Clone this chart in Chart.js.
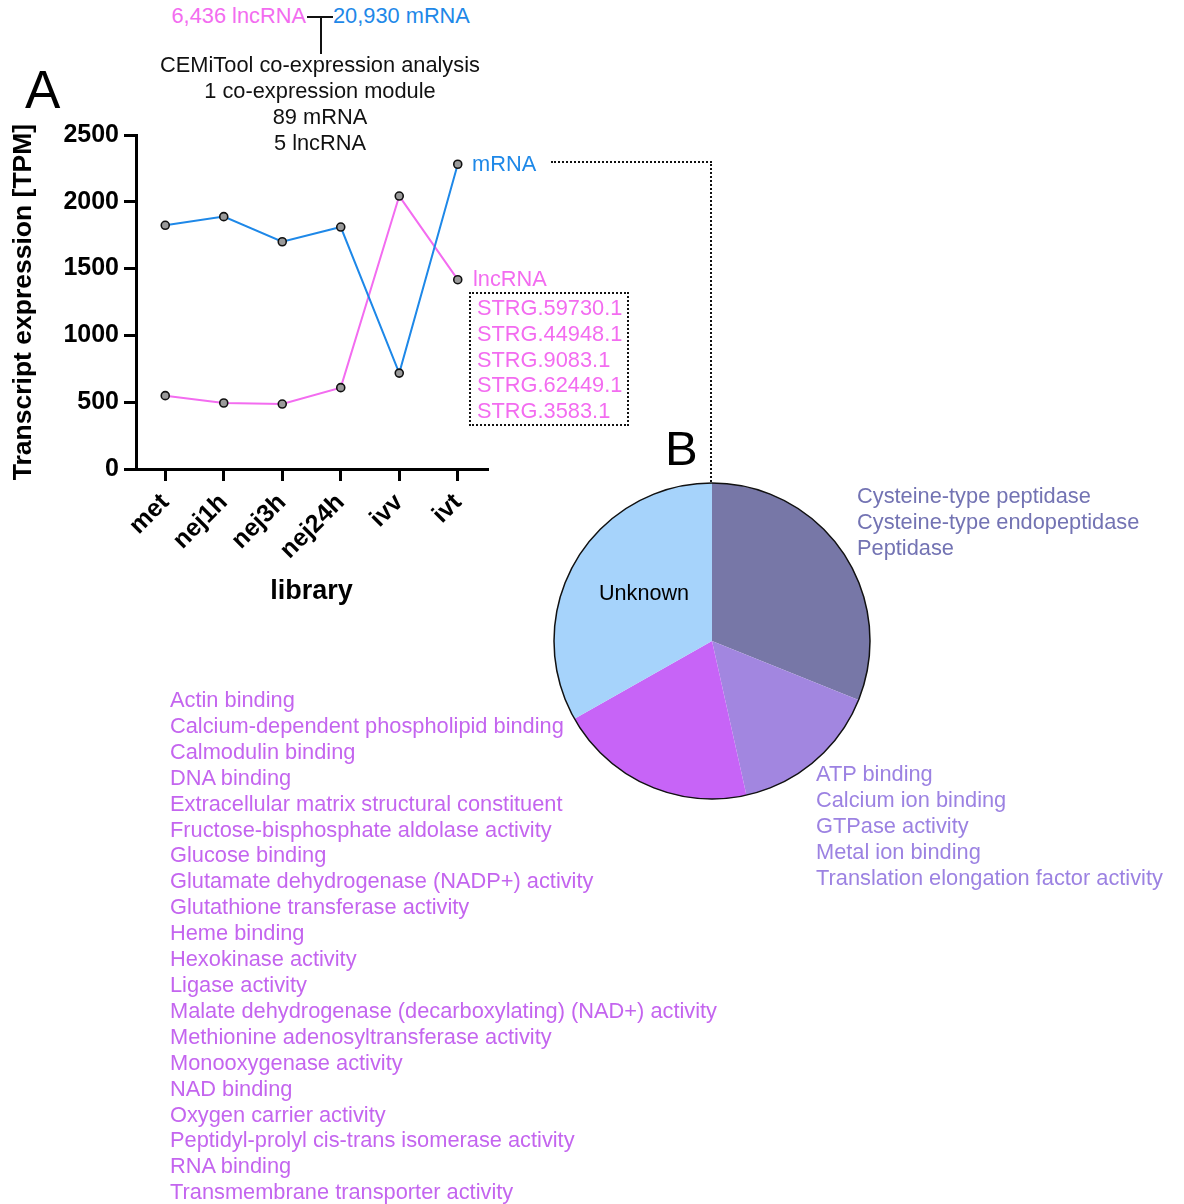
<!DOCTYPE html>
<html>
<head>
<meta charset="utf-8">
<script src="https://cdn.jsdelivr.net/npm/chart.js@4.4.1/dist/chart.umd.min.js"></script>
<style>
  html, body { margin: 0; padding: 0; background: #fff; }
  body { width: 1184px; height: 1204px; position: relative; overflow: hidden;
         font-family: "Liberation Sans", Arial, sans-serif; }
  .abs { position: absolute; white-space: nowrap; }
  .txt { font-size: 21.8px; line-height: 26px; }
  canvas { position: absolute; }
</style>
</head>
<body>
<canvas id="lineChart" width="500" height="505" style="left:0px;top:115px;"></canvas>
<canvas id="pieChart" width="320" height="320" style="left:552px;top:481px;"></canvas>
<div id="overlay"></div>
<script>
// ---------------- DATA ----------------
const categories = ['met', 'nej1h', 'nej3h', 'nej24h', 'ivv', 'ivt'];
const mrnaValues = [1824, 1889, 1701, 1811, 718, 2281];
const lncrnaValues = [549, 494, 486, 609, 2043, 1417];
const yTickValues = [0, 500, 1000, 1500, 2000, 2500];

const pieLabels = ['Cysteine-type peptidase group', 'ATP binding group', 'Actin binding group', 'Unknown'];
const pieValues = [31.1, 15.4, 20.3, 33.2];

const topCounts = ['6,436 lncRNA', '20,930 mRNA'];
const analysisLines = ['CEMiTool co-expression analysis', '1 co-expression module', '89 mRNA', '5 lncRNA'];
const lncrnaIds = ['STRG.59730.1', 'STRG.44948.1', 'STRG.9083.1', 'STRG.62449.1', 'STRG.3583.1'];
const cysteineTerms = ['Cysteine-type peptidase', 'Cysteine-type endopeptidase', 'Peptidase'];
const atpTerms = ['ATP binding', 'Calcium ion binding', 'GTPase activity', 'Metal ion binding', 'Translation elongation factor activity'];
const actinTerms = ['Actin binding', 'Calcium-dependent phospholipid binding', 'Calmodulin binding', 'DNA binding',
  'Extracellular matrix structural constituent', 'Fructose-bisphosphate aldolase activity', 'Glucose binding',
  'Glutamate dehydrogenase (NADP+) activity', 'Glutathione transferase activity', 'Heme binding',
  'Hexokinase activity', 'Ligase activity', 'Malate dehydrogenase (decarboxylating) (NAD+) activity',
  'Methionine adenosyltransferase activity', 'Monooxygenase activity', 'NAD binding', 'Oxygen carrier activity',
  'Peptidyl-prolyl cis-trans isomerase activity', 'RNA binding', 'Transmembrane transporter activity'];

// ---------------- COLOURS ----------------
const BLUE = '#1E88E8';
const PINK = '#F36CF0';
const pieColors = ['#7777A7', '#A286E0', '#C764F7', '#A6D3FB'];
const CYS_TEXT = '#7373B3';
const ATP_TEXT = '#9C82E2';
const ACTIN_TEXT = '#C465EF';

// ---------------- OVERLAY TEXT ----------------
const ov = document.getElementById('overlay');
function addDiv(html, style, cls) {
  const d = document.createElement('div');
  d.className = 'abs ' + (cls || '');
  d.innerHTML = html;
  Object.assign(d.style, style);
  ov.appendChild(d);
  return d;
}
function addList(lines, left, top, color, lh, extra) {
  addDiv(lines.join('<br>'), Object.assign({left: left + 'px', top: top + 'px', color: color, lineHeight: lh + 'px'}, extra || {}), 'txt');
}

// Header
addDiv(topCounts[0], {right: (1184 - 306) + 'px', top: '3px', color: PINK}, 'txt');
addDiv(topCounts[1], {left: '333px', top: '3px', color: BLUE}, 'txt');
addDiv('', {left: '307px', top: '16px', width: '26px', height: '0', borderTop: '2px solid #111'});
addDiv('', {left: '320px', top: '17px', width: '0', height: '37px', borderLeft: '2px solid #111'});
addList(analysisLines, 120, 52, '#111', 26, {width: '400px', textAlign: 'center'});

// Panel letters
addDiv('A', {left: '25px', top: '63px', fontSize: '53px', lineHeight: '53px', color: '#000'});
addDiv('B', {left: '665px', top: '424px', fontSize: '49px', lineHeight: '49px', color: '#000'});

// Series labels
addDiv('mRNA', {left: '472px', top: '151px', color: BLUE}, 'txt');
addDiv('lncRNA', {left: '473px', top: '266px', color: PINK}, 'txt');
addList(lncrnaIds, 477, 295, PINK, 25.8);
addDiv('', {left: '469px', top: '292px', width: '160px', height: '134px', border: '2px dotted #111', boxSizing: 'border-box'});

// Dotted connector to pie
addDiv('', {left: '551px', top: '161px', width: '161px', height: '0', borderTop: '2px dotted #111'});
addDiv('', {left: '710px', top: '161px', width: '0', height: '321px', borderLeft: '2px dotted #111'});

// Pie term lists
addList(cysteineTerms, 857, 483, CYS_TEXT, 26);
addList(atpTerms, 816, 761, ATP_TEXT, 26);
addList(actinTerms, 170, 687, ACTIN_TEXT, 25.9);
addDiv('Unknown', {left: '544px', top: '580px', width: '200px', textAlign: 'center', fontSize: '21.6px', lineHeight: '26px', color: '#000'});

// ---------------- LINE CHART ----------------
const FONT = '"Liberation Sans", Arial, sans-serif';
new Chart(document.getElementById('lineChart'), {
  type: 'line',
  data: {
    labels: categories,
    datasets: [
      { label: 'mRNA', data: mrnaValues, borderColor: BLUE, borderWidth: 2,
        pointRadius: 4, pointBorderWidth: 1.6, pointBackgroundColor: '#9A9A9A', pointBorderColor: '#111', tension: 0 },
      { label: 'lncRNA', data: lncrnaValues, borderColor: PINK, borderWidth: 2,
        pointRadius: 4, pointBorderWidth: 1.6, pointBackgroundColor: '#9A9A9A', pointBorderColor: '#111', tension: 0 }
    ]
  },
  options: {
    responsive: false,
    animation: false,
    devicePixelRatio: 1,
    layout: { padding: { left: 0, right: 13, top: 0, bottom: 0 } },
    plugins: { legend: { display: false }, tooltip: { enabled: false } },
    scales: {
      x: {
        type: 'category',
        offset: true,
        grid: { offset: false, drawOnChartArea: false, drawTicks: true, tickLength: 12, color: '#000', lineWidth: 3 },
        border: { display: true, color: '#000', width: 3 },
        ticks: { minRotation: 45, maxRotation: 45, color: '#000', padding: 7,
                 font: { family: FONT, size: 25, weight: 'bold' } },
        title: { display: true, text: 'library', color: '#000',
                 font: { family: FONT, size: 27, weight: 'bold' }, padding: { top: 0, bottom: 12 } },
        afterFit: (s) => { s.height = 151; }
      },
      y: {
        min: 0, max: 2500,
        afterBuildTicks: (s) => { s.ticks = yTickValues.map(v => ({ value: v })); },
        grid: { drawOnChartArea: false, drawTicks: true, tickLength: 12, color: '#000', lineWidth: 3 },
        border: { display: true, color: '#000', width: 3 },
        ticks: { color: '#000', padding: 5, font: { family: FONT, size: 25, weight: 'bold' },
                 callback: (v) => String(v) },
        title: { display: true, text: 'Transcript expression [TPM]', color: '#000',
                 font: { family: FONT, size: 26.5, weight: 'bold' }, padding: { top: 8, bottom: 0 } },
        afterFit: (s) => { s.width = 136; }
      }
    }
  }
});

// ---------------- PIE CHART ----------------
const outlinePlugin = {
  id: 'outline',
  afterDatasetsDraw(chart) {
    const arc = chart.getDatasetMeta(0).data[0];
    if (!arc) return;
    const ctx = chart.ctx;
    ctx.save();
    ctx.beginPath();
    ctx.arc(arc.x, arc.y, arc.outerRadius, 0, Math.PI * 2);
    ctx.lineWidth = 1.5;
    ctx.strokeStyle = '#111';
    ctx.stroke();
    ctx.restore();
  }
};
new Chart(document.getElementById('pieChart'), {
  type: 'pie',
  data: {
    labels: pieLabels,
    datasets: [{ data: pieValues, backgroundColor: pieColors, borderWidth: 0 }]
  },
  options: {
    responsive: false,
    animation: false,
    devicePixelRatio: 1,
    layout: { padding: 2 },
    plugins: { legend: { display: false }, tooltip: { enabled: false } }
  },
  plugins: [outlinePlugin]
});
</script>
</body>
</html>
